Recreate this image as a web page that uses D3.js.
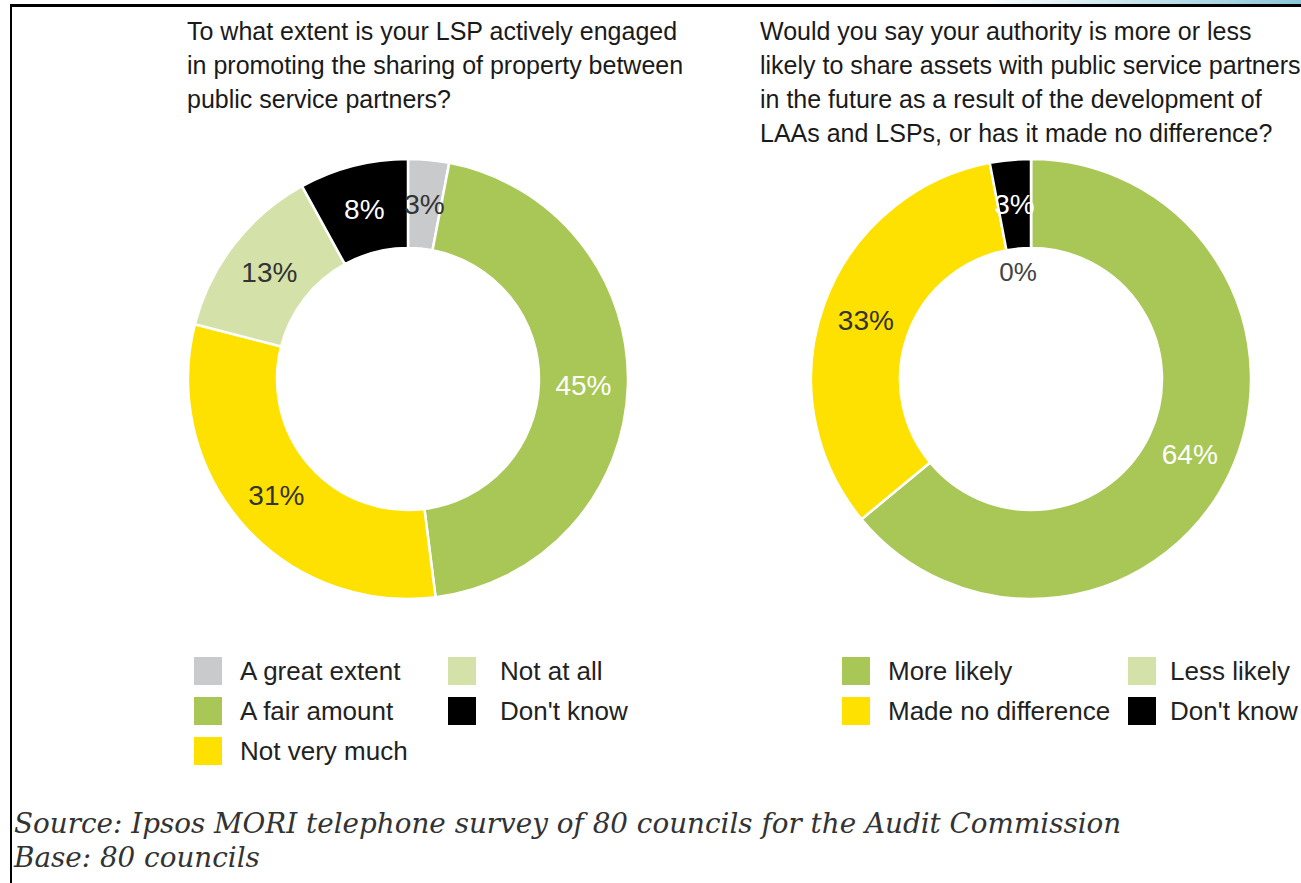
<!doctype html>
<head>
  <meta charset="utf-8">
  <script src="https://cdnjs.cloudflare.com/ajax/libs/d3/7.8.5/d3.min.js"></script>
</head>
<style>
    body { margin: 0; background: white; }
    svg { display: block; }
    .title, .legend text, .label { font-family: "Liberation Sans", Arial, sans-serif; }
    .source { font-family: "DejaVu Serif", Georgia, serif; font-style: italic; }
</style>
<body>
<div id="chart"></div>
<script>
    // Datos
    const leftTitle = ["To what extent is your LSP actively engaged",
                       "in promoting the sharing of property between",
                       "public service partners?"];
    const leftCategories = ["A great extent", "A fair amount", "Not very much", "Not at all", "Don't know"];
    const leftValues = [3, 45, 31, 13, 8];

    const rightTitle = ["Would you say your authority is more or less",
                        "likely to share assets with public service partners",
                        "in the future as a result of the development of",
                        "LAAs and LSPs, or has it made no difference?"];
    const rightCategories = ["More likely", "Made no difference", "Less likely", "Don't know"];
    const rightValues = [64, 33, 0, 3];
    const rightPieOrder = ["More likely", "Made no difference", "Don't know", "Less likely"];

    const sourceLines = ["Source: Ipsos MORI telephone survey of 80 councils for the Audit Commission",
                         "Base: 80 councils"];

    const colors = {
        "A great extent": "#c9cacc",
        "A fair amount": "#a9c756",
        "Not very much": "#ffe100",
        "Not at all": "#d4e2aa",
        "Don't know": "#000000",
        "More likely": "#a9c756",
        "Made no difference": "#ffe100",
        "Less likely": "#d4e2aa",
    };

    const width = 1301, height = 883;
    const svg = d3.select('#chart').append('svg')
        .attr('width', width)
        .attr('height', height);

    // marco de la página
    const grad = svg.append('defs').append('linearGradient')
        .attr('id', 'topbar').attr('x1', 0).attr('x2', 1);
    grad.append('stop').attr('offset', 0).attr('stop-color', '#ffffff');
    grad.append('stop').attr('offset', 1).attr('stop-color', '#8cc6d8');
    svg.append('rect').attr('x', 980).attr('y', 0).attr('width', 321).attr('height', 5).attr('fill', 'url(#topbar)');
    svg.append('rect').attr('x', 10).attr('y', 4).attr('width', 1291).attr('height', 3).attr('fill', '#000');
    svg.append('rect').attr('x', 10).attr('y', 4).attr('width', 2).attr('height', 879).attr('fill', '#000');

    function luminance(hex) {
        const c = d3.rgb(hex);
        return 0.299 * c.r + 0.587 * c.g + 0.114 * c.b;
    }

    function drawDonut(cfg) {
        const data = cfg.categories.map((c, i) => ({ name: c, value: cfg.values[i] }));
        const order = cfg.pieOrder || cfg.categories;
        const pie = d3.pie()
            .value(d => d.value)
            .sort((a, b) => order.indexOf(a.name) - order.indexOf(b.name));
        const arcs = pie(data);

        const arc = d3.arc().innerRadius(cfg.innerRadius).outerRadius(cfg.outerRadius);

        const g = svg.append('g').attr('transform', `translate(${cfg.cx},${cfg.cy})`);
        g.selectAll('path')
            .data(arcs)
            .join('path')
            .attr('d', arc)
            .attr('fill', d => colors[d.data.name])
            .attr('stroke', '#fff')
            .attr('stroke-width', 2.5);

        // etiquetas en el centroide (las de valor 0 dentro del hueco)
        const labelArc = d3.arc()
            .innerRadius((cfg.innerRadius + cfg.outerRadius) / 2)
            .outerRadius((cfg.innerRadius + cfg.outerRadius) / 2);
        const zeroArc = d3.arc()
            .innerRadius(cfg.innerRadius - 24)
            .outerRadius(cfg.innerRadius - 24);
        g.selectAll('.label')
            .data(arcs)
            .join('text')
            .attr('class', 'label')
            .attr('transform', d => `translate(${(d.value === 0 ? zeroArc : labelArc).centroid(d)})`)
            .attr('dx', d => d.value === 0 ? -13 : 0)
            .attr('text-anchor', 'middle')
            .attr('dy', '0.36em')
            .attr('font-size', d => d.value === 0 ? 26 : 28)
            .attr('fill', d => d.value === 0 ? '#444' : (luminance(colors[d.data.name]) < 190 ? '#fff' : '#333'))
            .text(d => `${d.value}%`);

        // título
        svg.append('text')
            .attr('class', 'title')
            .attr('font-size', 25)
            .attr('fill', '#1a1a1a')
            .selectAll('tspan')
            .data(cfg.title)
            .join('tspan')
            .attr('x', cfg.titleX)
            .attr('y', (d, i) => 40 + i * 34)
            .text(d => d);

        // leyenda
        const legend = svg.append('g').attr('class', 'legend');
        const items = legend.selectAll('g')
            .data(cfg.categories)
            .join('g')
            .attr('transform', (d, i) => {
                const col = Math.floor(i / cfg.legendRows);
                const row = i % cfg.legendRows;
                return `translate(${cfg.legendCols[col]},${657 + row * 40})`;
            });
        items.append('rect')
            .attr('width', 28).attr('height', 28)
            .attr('fill', d => colors[d]);
        items.append('text')
            .attr('x', (d, i) => cfg.legendGap[Math.floor(i / cfg.legendRows)])
            .attr('y', 14)
            .attr('dy', '0.36em')
            .attr('font-size', 26)
            .attr('fill', '#222')
            .text(d => d);
    }

    drawDonut({
        title: leftTitle, titleX: 187,
        categories: leftCategories, values: leftValues,
        cx: 408, cy: 379, outerRadius: 220, innerRadius: 131,
        legendRows: 3, legendCols: [194, 448], legendGap: [46, 52],
    });
    drawDonut({
        title: rightTitle, titleX: 760,
        categories: rightCategories, values: rightValues, pieOrder: rightPieOrder,
        cx: 1031, cy: 379, outerRadius: 220, innerRadius: 131,
        legendRows: 2, legendCols: [842, 1128], legendGap: [46, 42],
    });

    // fuente
    svg.append('text')
        .attr('class', 'source')
        .attr('font-size', 27.8)
        .attr('fill', '#333')
        .selectAll('tspan')
        .data(sourceLines)
        .join('tspan')
        .attr('x', 14)
        .attr('y', (d, i) => 833 + i * 34)
        .text(d => d);
</script>
</body>
